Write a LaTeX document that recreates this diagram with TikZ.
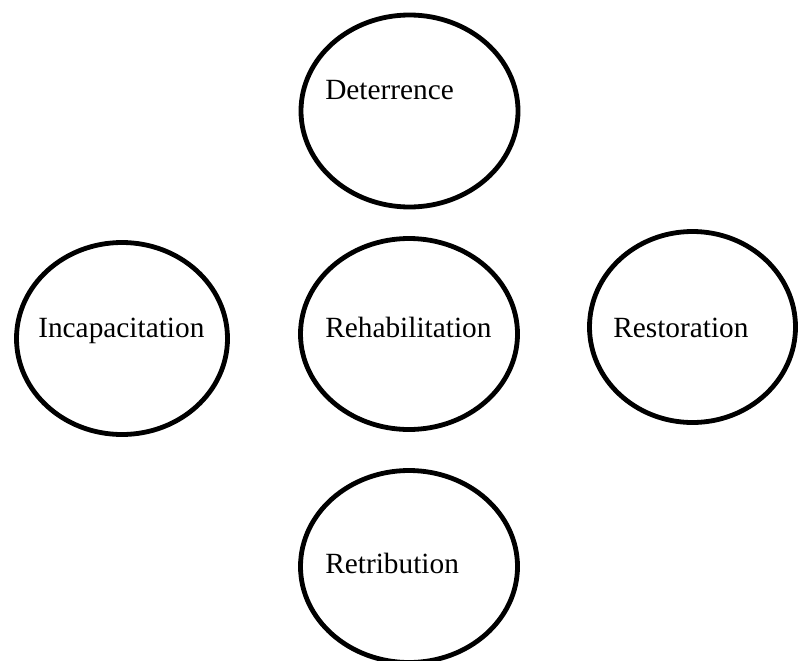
\documentclass[tikz,border=0pt]{standalone}
\usepackage{fontspec}
\setmainfont{Liberation Serif}
\usetikzlibrary{shapes.geometric}

\begin{document}
\begin{tikzpicture}[x=0.75pt, y=-0.75pt,
  ring/.style={ellipse, draw=black, line width=3.6pt, fill=none,
    inner sep=0pt, minimum width=#1},
  ring/.default=162.75pt,
  word/.style={anchor=base west, inner sep=0pt,
    font=\fontsize{22}{26}\selectfont}]
  % page frame; the outer circles run past its edges
  \path[use as bounding box, clip] (0,0) rectangle (798,660);

  % circles
  \node[ring, minimum height=144pt] (det) at (409.5,111) {};
  \node[ring=158.25pt, minimum height=144pt] (inc) at (122,338.5) {};
  \node[ring, minimum height=143.25pt] (reh) at (409,334) {};
  \node[ring=154.5pt, minimum height=143.25pt] (res) at (692.5,327) {};
  \node[ring, minimum height=144pt] (ret) at (409,566.5) {};

  % labels
  \node[word] (detL) at (325,99.5) {Deterrence};
  \node[word] (incL) at (38,337) {Incapacitation};
  \node[word] (rehL) at (325,337) {Rehabilitation};
  \node[word] (resL) at (613,337) {Restoration};
  \node[word] (retL) at (325,573) {Retribution};
\end{tikzpicture}
\end{document}
